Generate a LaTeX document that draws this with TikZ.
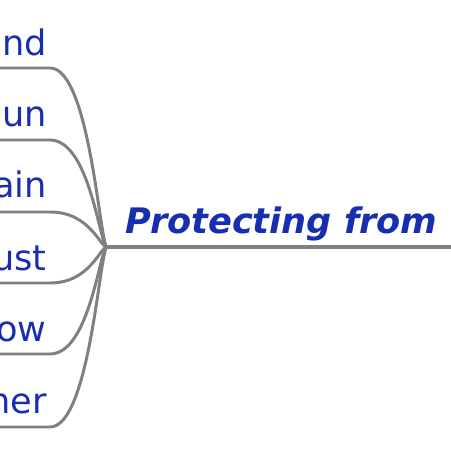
\documentclass[tikz,border=0pt]{standalone}
\usepackage{fontspec}
\setmainfont{DejaVu Sans}
\usepackage{tikz}
\usetikzlibrary{positioning}
\definecolor{mapblue}{RGB}{24,46,176}
\definecolor{linegray}{RGB}{128,128,128}

\begin{document}
\begin{tikzpicture}[x=0.02cm, y=-0.02cm,
    branch/.style={draw=linegray, line width=1.7pt, line cap=round},
    leaf/.style={text=mapblue, inner sep=0pt, anchor=base east,
                 font=\fontsize{20}{24}\selectfont},
    topic/.style={text=mapblue, inner sep=0pt, anchor=base west,
                  font=\fontsize{20}{24}\selectfont\bfseries\itshape}]
    \useasboundingbox (0,0) rectangle (450,450);
    \coordinate (hub) at (107,247);
    \coordinate (mainend) at (452,247);
    \node[topic] (main) at (125,233) {Protecting from};
    \draw[branch, line width=2pt] (hub) -- (mainend);
    % leaves on the left
    \foreach \txt/\yb/\yl [count=\i] in {nd/55/68, un/126/140, ain/197/212,
                                          ust/270/283, ow/341/354, her/413/427}{
      \node[leaf] (leaf\i) at (47,\yb) {\txt};
      \coordinate (in\i) at (-2,\yl);
      \draw[branch] (in\i) -- (50,\yl)
        .. controls (90,\yl) and (100,247) .. (hub);
    }
\end{tikzpicture}
\end{document}
